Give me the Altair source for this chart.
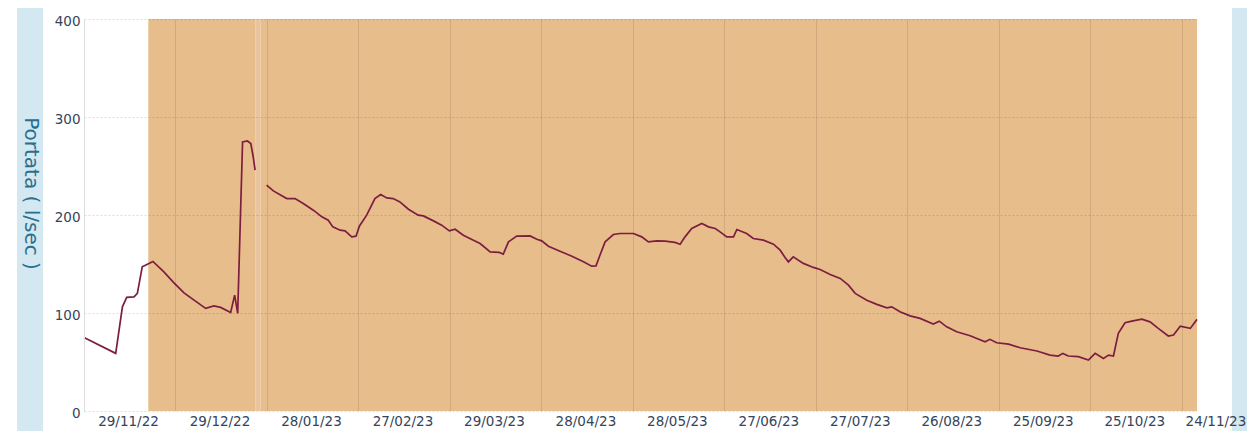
import altair as alt
import pandas as pd

# --- data (days since 14/11/2022, flow in l/sec) ---
inizio = "2022-11-14"

giorni_1 = [0, 10.4, 12.6, 14.0, 16.4, 17.5, 19.1, 20.8, 22.6, 26.2, 29.5, 32.8,
            36.1, 39.9, 42.6, 44.8, 48.1, 49.4, 50.4, 52.0, 53.6, 54.7, 55.5, 56.1]
portata_1 = [75.1, 58.8, 106.3, 115.9, 116.5, 120.0, 147.1, 149.8, 152.6, 142.0, 130.8, 120.6,
             113.1, 104.7, 107.3, 105.7, 100.6, 118.2, 99.6, 274.5, 275.5, 272.9, 259.2, 245.7]

giorni_2 = [59.9, 62.1, 66.5, 69.2, 71.9, 75.2, 78.0, 80.1, 81.6, 84.0, 85.6, 87.8,
            89.2, 90.3, 92.7, 95.4, 97.3, 99.3, 101.4, 103.6, 106.4, 109.6, 111.3, 114.6,
            117.3, 119.8, 121.7, 124.4, 127.2, 129.9, 133.2, 136.2, 137.5, 139.2, 141.9, 146.3,
            148.5, 150.1, 152.3, 156.1, 160.0, 163.8, 166.5, 167.9, 169.2, 170.9, 173.6, 175.8,
            180.2, 182.9, 185.1, 187.8, 190.6, 193.8, 195.5, 197.1, 199.3, 202.6, 204.8, 207.0,
            208.6, 210.8, 213.0, 214.1, 217.3, 219.5, 222.8, 226.1, 228.3, 229.9, 231.0, 232.6,
            235.9, 239.2, 241.4, 244.7, 248.0, 250.7, 252.9, 256.7, 260.0, 263.3, 264.9, 267.6,
            270.9, 274.2, 278.5, 280.5, 282.9, 286.2, 290.6, 295.5, 297.1, 299.3, 303.2, 307.0,
            312.5, 316.8, 319.5, 321.0, 322.8, 326.1, 329.4, 331.6, 334.3, 336.0, 337.6, 339.2,
            341.4, 343.6, 346.9, 349.6, 352.3, 355.6, 357.3, 359.5, 362.8, 365.0]
portata_2 = [230.4, 224.6, 216.8, 216.8, 211.7, 204.9, 198.1, 194.7, 187.9, 184.5, 183.8, 177.7,
             178.4, 188.6, 199.8, 216.8, 220.9, 217.4, 216.8, 213.4, 205.9, 199.8, 199.1, 194.0,
             189.6, 183.8, 185.5, 179.4, 175.0, 170.9, 162.4, 161.8, 160.0, 172.6, 178.4, 178.7,
             175.3, 173.6, 168.2, 163.1, 158.0, 152.2, 147.8, 148.1, 159.0, 172.6, 180.1, 181.1,
             181.1, 177.7, 172.6, 173.6, 173.3, 172.0, 170.2, 177.7, 186.2, 191.3, 187.9, 186.2,
             182.8, 177.7, 177.7, 185.2, 181.1, 176.0, 174.3, 170.2, 164.1, 156.7, 152.2, 157.3,
             150.6, 146.5, 144.4, 139.3, 135.3, 128.4, 120.0, 113.1, 108.8, 105.3, 106.3, 101.2,
             97.1, 94.5, 88.7, 91.7, 85.9, 80.8, 76.8, 70.6, 73.1, 69.6, 68.3, 64.5,
             61.2, 57.1, 56.1, 58.8, 56.1, 55.4, 52.0, 58.8, 53.7, 57.1, 56.1, 79.2,
             90.0, 91.7, 93.8, 91.0, 84.3, 76.5, 77.5, 86.6, 84.3, 93.5]

# shaded period (plot band), with a thin lighter seam
banda_inizio = ["2022-12-05T02:00", "2023-01-09T07:00", "2023-01-10T22:00"]
banda_fine = ["2023-01-09T07:00", "2023-01-10T22:00", "2023-11-14T00:00"]
banda_tipo = ["periodo", "giunto", "periodo"]

# vertical grid lines every 30 days; labels sit half-way (15 days later):
# 29/11/22, 29/12/22, 28/01/23, ... 24/11/23
griglia_x = ["2022-11-14", "2022-12-14", "2023-01-13", "2023-02-12", "2023-03-14", "2023-04-13",
             "2023-05-13", "2023-06-12", "2023-07-12", "2023-08-11", "2023-09-10",
             "2023-10-10", "2023-11-09"]
scarto_etichette_giorni = 15
valori_y = [0, 100, 200, 300, 400]

# --- tables ---
t0 = pd.Timestamp(inizio)
df = pd.concat([
    pd.DataFrame({"data": t0 + pd.to_timedelta(giorni_1, unit="D"), "portata": portata_1, "tratto": 1}),
    pd.DataFrame({"data": t0 + pd.to_timedelta(giorni_2, unit="D"), "portata": portata_2, "tratto": 2}),
], ignore_index=True)
df["data"] = df["data"].dt.strftime("%Y-%m-%dT%H:%M:%S")

bande = pd.DataFrame({"inizio": banda_inizio, "fine": banda_fine, "tipo": banda_tipo})


def dt(s):
    y, m, d = map(int, s.split("-"))
    return alt.DateTime(year=y, month=m, date=d)


W, H = 1113, 392
GIORNI_DOMINIO = 365
FONT = "DejaVu Sans"
LABEL_COL = "#34445a"

x_scale = alt.Scale(domain=[dt("2022-11-14"), dt("2023-11-14")])
y_scale = alt.Scale(domain=[0, 400], nice=False)

ultima = "time(datum.value) > time(datetime(2023, 10, 1))"
x_axis = alt.Axis(values=[dt(s) for s in griglia_x], title=None,
                  labelExpr=f"timeFormat(time(datum.value) + {scarto_etichette_giorni}*86400000, '%d/%m/%y')",
                  labelOffset={"condition": {"test": ultima, "value": 64}, "value": 44},
                  labelAlign={"condition": {"test": ultima, "value": "right"}, "value": "center"},
                  grid=True, gridColor="#000000", gridOpacity=0.1,
                  ticks=False, domain=False, labelPadding=3,
                  labelFont=FONT, labelFontSize=13.5, labelColor=LABEL_COL,
                  labelOverlap=False, labelFlush=False, labelBound=False, zindex=1)
y_axis = alt.Axis(values=valori_y, title="Portata ( l/sec )", grid=True,
                  gridColor="#000000", gridOpacity=0.13, gridDash=[2, 2],
                  ticks=False, domain=True, domainColor="#dddddd",
                  labelPadding=4, labelOffset=2, labelFont=FONT, labelFontSize=13.5,
                  labelColor=LABEL_COL, titleFont=FONT, titleFontSize=20,
                  titleFontWeight="normal", titleColor="#2b6f8f", titleAngle=90,
                  titleAlign="center", titleBaseline="middle", titleX=-54, titleY=174,
                  zindex=1)

# decorative light-blue side bars of the page frame
cornice = alt.Chart(pd.DataFrame({"k": [1]})).mark_rect(color="#d3e8f1", clip=False).encode(
    x=alt.value(-67), x2=alt.value(-41), y=alt.value(-20), y2=alt.value(430)
) + alt.Chart(pd.DataFrame({"k": [1]})).mark_rect(color="#d3e8f1", clip=False).encode(
    x=alt.value(1148), x2=alt.value(1180), y=alt.value(-20), y2=alt.value(430)
)

banda = alt.Chart(bande).mark_rect().encode(
    x=alt.X("inizio:T", scale=x_scale, axis=x_axis),
    x2="fine:T",
    y=alt.value(0), y2=alt.value(H),
    color=alt.Color("tipo:N", legend=None,
                    scale=alt.Scale(domain=["periodo", "giunto"], range=["#e8bd8c", "#eac49c"])),
)

linea = alt.Chart(df).mark_line(color="#7d1d40", strokeWidth=1.7).encode(
    x=alt.X("data:T", scale=x_scale),
    y=alt.Y("portata:Q", scale=y_scale, axis=y_axis),
    detail="tratto:N",
)

chart = alt.layer(cornice, banda, linea).properties(
    width=W, height=H,
    autosize=alt.AutoSizeParams(type="none"),
    padding={"left": 76, "top": 11, "right": 50, "bottom": 20},
    background="white",
).configure_view(strokeWidth=0)

chart.save("out.html", embed_options={"renderer": "svg", "actions": False})
